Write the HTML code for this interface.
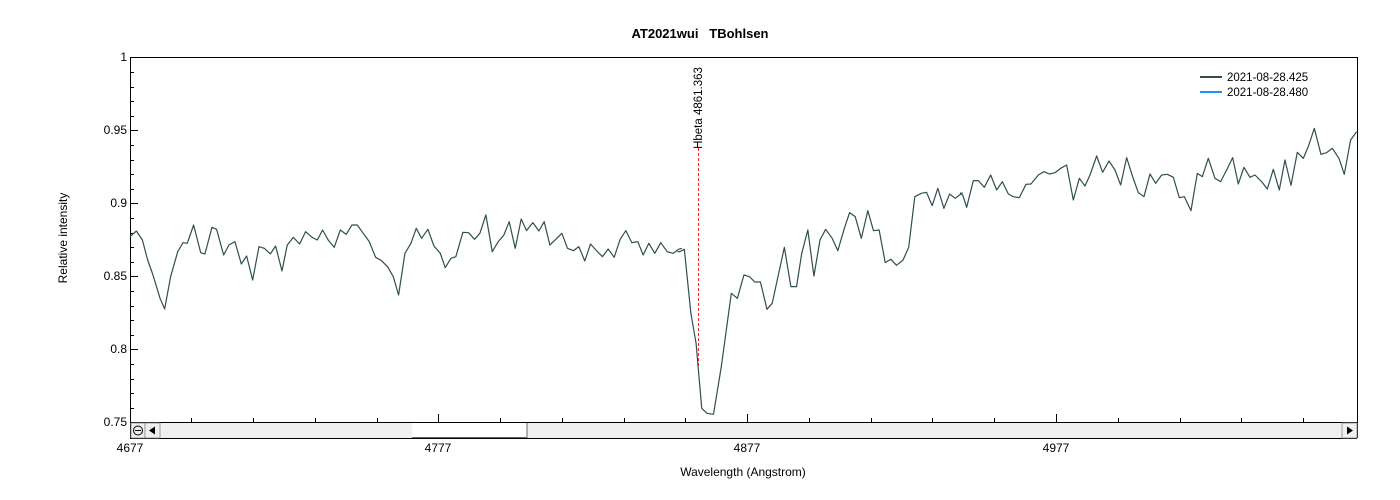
<!DOCTYPE html>
<html><head><meta charset="utf-8"><style>
body{margin:0;background:#fff;}
svg{display:block;font-family:"Liberation Sans",Arial,sans-serif;}
</style></head><body>
<svg width="1400" height="500" viewBox="0 0 1400 500">
<rect width="1400" height="500" fill="#fff"/>
<text x="700" y="38" text-anchor="middle" font-size="13" font-weight="bold" style="white-space:pre">AT2021wui   TBohlsen</text>
<!-- y labels -->
<g font-size="12" text-anchor="end">
<text x="127" y="61">1</text>
<text x="127" y="134">0.95</text>
<text x="127" y="207">0.9</text>
<text x="127" y="280">0.85</text>
<text x="127" y="353">0.8</text>
<text x="127" y="426">0.75</text>
</g>
<text transform="translate(67,238) rotate(-90)" text-anchor="middle" font-size="12">Relative intensity</text>
<g font-size="12" text-anchor="middle">
<text x="130" y="452">4677</text>
<text x="438" y="452">4777</text>
<text x="747" y="452">4877</text>
<text x="1056" y="452">4977</text>
</g>
<text x="743" y="476" text-anchor="middle" font-size="12">Wavelength (Angstrom)</text>
<!-- ticks -->
<g stroke="#000" stroke-width="1">
<path d="M130.5 57V438M1357.5 57V438M130 57.5H1357M130 422.5H1357M130 438.5H1357"/>
<path d="M130 57.5h8M130 130.5h8M130 203.5h8M130 276.5h8M130 349.5h8"/>
<path d="M130 72.5h4M130 87.5h4M130 101.5h4M130 116.5h4M130 145.5h4M130 160.5h4M130 174.5h4M130 189.5h4M130 218.5h4M130 233.5h4M130 247.5h4M130 262.5h4M130 291.5h4M130 306.5h4M130 320.5h4M130 335.5h4M130 364.5h4M130 379.5h4M130 393.5h4M130 408.5h4"/>
<path d="M438.5 422v-8M747.5 422v-8M1056.5 422v-8"/>
<path d="M191.5 422v-4M253.5 422v-4M315.5 422v-4M377.5 422v-4M500.5 422v-4M562.5 422v-4M624.5 422v-4M685.5 422v-4M809.5 422v-4M871.5 422v-4M932.5 422v-4M994.5 422v-4M1118.5 422v-4M1180.5 422v-4M1241.5 422v-4M1303.5 422v-4"/>
</g>
<!-- scrollbar -->
<rect x="131" y="423" width="1226" height="15" fill="#f0f0f0"/>
<rect x="412" y="423" width="115" height="15" fill="#fff"/>
<path d="M412 437.5H527V423" stroke="#666" fill="none"/>
<rect x="131" y="423" width="14" height="15" fill="#f0f0f0" stroke="#888" stroke-width="0.8"/>
<circle cx="138" cy="430.5" r="4.5" fill="none" stroke="#000"/>
<path d="M135 430.5h6" stroke="#000"/>
<rect x="145" y="423" width="15" height="15" fill="#f0f0f0" stroke="#888" stroke-width="0.8"/>
<path d="M149 430.5l6-4v8z" fill="#000"/>
<rect x="1342" y="423" width="15" height="15" fill="#f0f0f0" stroke="#888" stroke-width="0.8"/>
<path d="M1353 430.5l-6-4v8z" fill="#000"/>
<!-- marker -->
<line x1="698.5" y1="148" x2="698.5" y2="366" stroke="#f22" stroke-dasharray="3,2"/>
<text transform="translate(702,108) rotate(-90)" text-anchor="middle" font-size="11.5">Hbeta 4861.363</text>
<!-- series -->
<g fill="none" stroke="#2f4f4f" stroke-width="1.2" stroke-linejoin="round">
<polyline vector-effect="non-scaling-stroke" transform="translate(130,190) scale(0.3534,0.3333)" points="0,140 18,123 35,150 50,210 65,255 85,325 98,357 115,260 135,185 150,158 162,160 180,105 200,188 212,192 232,112 245,118 265,195 280,165 297,155 315,222 330,198 347,270 365,170 380,175 397,192 412,168 430,243 445,165 462,142 480,162 497,125 515,142 530,150 545,120 562,152 578,172 595,120 612,133 628,105 643,105 660,130 677,155 695,202 712,212 730,232 745,260 760,315 778,190 795,160 810,115 825,145 843,118 860,168 878,190 892,233 908,205 922,200 942,127 958,128 975,148 990,130 1007,75 1025,185 1042,155 1058,135 1073,95 1090,175 1107,87 1122,122 1140,98 1157,123 1172,95 1188,165 1205,148 1222,130 1238,175 1255,182 1270,170 1287,213 1303,162 1320,182 1337,200 1353,177 1370,202 1387,148 1403,122 1420,158 1437,155 1452,195 1468,160 1485,190 1502,158 1520,185 1537,190 1552,178 1562,175"/>
<polyline vector-effect="non-scaling-stroke" transform="translate(680,160) scale(0.4348,0.3333)" points="-6,275 0,275 10,268 25,460 37,550 50,745 62,760 77,763 95,620 118,400 132,415 147,345 160,350 172,366 185,366 200,448 212,430 240,262 255,380 268,380 280,280 294,210 308,348 322,240 335,208 350,235 363,272 378,205 390,158 403,170 417,235 432,152 445,212 458,210 472,308 485,298 498,316 513,300 526,262 540,110 555,100 567,97 580,137 593,85 607,145 620,102 633,115 650,98"/>
<polyline vector-effect="non-scaling-stroke" transform="translate(960,120) scale(0.3333,0.3333)" points="0,218 8,225 20,262 40,182 55,182 73,202 92,165 110,210 127,185 145,222 160,230 178,233 198,193 213,192 235,165 252,155 268,162 285,158 305,143 320,135 340,240 358,175 375,198 390,165 410,108 428,157 447,123 465,150 482,195 500,113 518,170 535,218 552,230 570,162 587,190 605,165 622,163 640,172 658,233 673,230 693,272 712,160 727,170 745,115 765,175 782,185 800,150 818,113 835,192 852,142 870,172 885,165 905,185 922,207 940,148 958,210 975,120 993,196 1012,97 1030,115 1045,80 1063,25 1083,103 1100,98 1117,85 1137,115 1153,163 1172,60 1190,35"/>
</g>
<!-- legend -->
<line x1="1200" y1="77" x2="1222" y2="77" stroke="#2f4f4f" stroke-width="2"/>
<line x1="1200" y1="92" x2="1222" y2="92" stroke="#1e90ff" stroke-width="2"/>
<text x="1227" y="81" font-size="11.5">2021-08-28.425</text>
<text x="1227" y="96" font-size="11.5">2021-08-28.480</text>
</svg>
</body></html>
